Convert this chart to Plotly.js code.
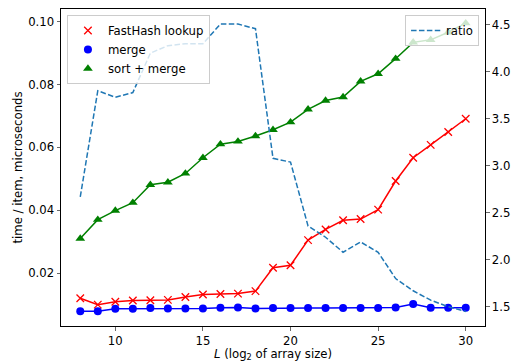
<!DOCTYPE html>
<html>
<head>
<meta charset="utf-8">
<script src="https://cdn.plot.ly/plotly-3.0.1.min.js"></script>
<style>html,body{margin:0;padding:0;background:#fff;}#chart{width:514px;height:362px;}</style>
</head>
<body>
<div id="chart"></div>
<script>
const L = [8,9,10,11,12,13,14,15,16,17,18,19,20,21,22,23,24,25,26,27,28,29,30];
const fastHash = [0.0120,0.0100,0.0109,0.0113,0.0114,0.0115,0.0124,0.0132,0.0134,0.0135,0.0143,0.0217,0.0225,0.0305,0.0339,0.0368,0.0372,0.0402,0.0493,0.0567,0.0608,0.0649,0.0691];
const merge = [0.0079,0.0079,0.0087,0.0087,0.0089,0.0088,0.0088,0.0088,0.0090,0.0091,0.0088,0.0089,0.0089,0.0089,0.0089,0.0089,0.0089,0.0089,0.0091,0.0102,0.0090,0.0090,0.0090];
const sortMerge = [0.0310,0.0370,0.0399,0.0424,0.0481,0.0489,0.0517,0.0567,0.0610,0.0619,0.0636,0.0656,0.0680,0.0721,0.0749,0.0760,0.0810,0.0834,0.0882,0.0934,0.0942,0.0966,0.0995];
const ratio = [2.67,3.80,3.73,3.78,4.20,4.28,4.30,4.30,4.51,4.51,4.46,3.08,3.04,2.36,2.24,2.08,2.19,2.08,1.80,1.67,1.57,1.50,1.45];
const xTicks = [10,15,20,25,30];
const yTicks = [0.02,0.04,0.06,0.08,0.10];
const y2Ticks = [1.5,2.0,2.5,3.0,3.5,4.0,4.5];

const font = {family:'DejaVu Sans, sans-serif', size:11.7, color:'#000'};
const traces = [
  {x:L, y:fastHash, mode:'lines+markers', name:'FastHash lookup', showlegend:false,
   line:{color:'#ff0000', width:1.5}, marker:{symbol:'x-thin', size:7.5, line:{color:'#ff0000', width:1.3}}},
  {x:L, y:merge, mode:'lines+markers', name:'merge', showlegend:false,
   line:{color:'#0000ff', width:1.5}, marker:{symbol:'circle', size:8, color:'#0000ff'}},
  {x:L, y:sortMerge, mode:'lines+markers', name:'sort + merge', showlegend:false,
   line:{color:'#008000', width:1.5}, marker:{symbol:'triangle-up', size:8.5, color:'#008000'}},
  {x:[null], y:[null], mode:'markers', name:'FastHash lookup', legend:'legend',
   marker:{symbol:'x-thin', size:7.5, line:{color:'#ff0000', width:1.3}}},
  {x:[null], y:[null], mode:'markers', name:'merge', legend:'legend',
   marker:{symbol:'circle', size:8, color:'#0000ff'}},
  {x:[null], y:[null], mode:'markers', name:'sort + merge', legend:'legend',
   marker:{symbol:'triangle-up', size:8.5, color:'#008000'}},
  {x:L, y:ratio, mode:'lines', name:'ratio', yaxis:'y2', legend:'legend2',
   line:{color:'#1f77b4', width:1.5, dash:'5.5px,2.4px'}}
];
const layout = {
  width:514, height:362,
  margin:{l:61, r:29, t:9, b:36, pad:0},
  paper_bgcolor:'#fff', plot_bgcolor:'#fff',
  font:font,
  xaxis:{range:[6.9,31.1], tickvals:xTicks, ticktext:xTicks.map(String), ticks:'outside', ticklen:3.5, tickwidth:0.8,
    showgrid:false, zeroline:false, showline:true, linecolor:'#000', linewidth:1, mirror:true,
    title:{text:'<i>L</i> (log<sub>2</sub> of array size)', font:font, standoff:3}},
  yaxis:{range:[0.0032,0.1040], tickvals:yTicks, ticktext:yTicks.map(v=>v.toFixed(2)), ticks:'outside', ticklen:3.5, tickwidth:0.8,
    showgrid:false, zeroline:false, showline:true, linecolor:'#000', linewidth:1,
    title:{text:'time / item, microseconds', font:font, standoff:3}},
  yaxis2:{range:[1.295,4.67], overlaying:'y', side:'right', tickvals:y2Ticks, ticktext:y2Ticks.map(v=>v.toFixed(1)),
    ticks:'outside', ticklen:3.5, tickwidth:0.8, showgrid:false, zeroline:false, showline:true, linecolor:'#000', linewidth:1},
  legend:{x:0.014, y:0.981, xanchor:'left', yanchor:'top', bgcolor:'rgba(255,255,255,0.8)', bordercolor:'#cccccc', borderwidth:1,
    font:font, tracegroupgap:0},
  legend2:{x:0.986, y:0.981, xanchor:'right', yanchor:'top', bgcolor:'rgba(255,255,255,0.8)', bordercolor:'#cccccc', borderwidth:1,
    font:font}
};
Plotly.newPlot('chart', traces, layout, {displayModeBar:false, staticPlot:true});
</script>
</body>
</html>
